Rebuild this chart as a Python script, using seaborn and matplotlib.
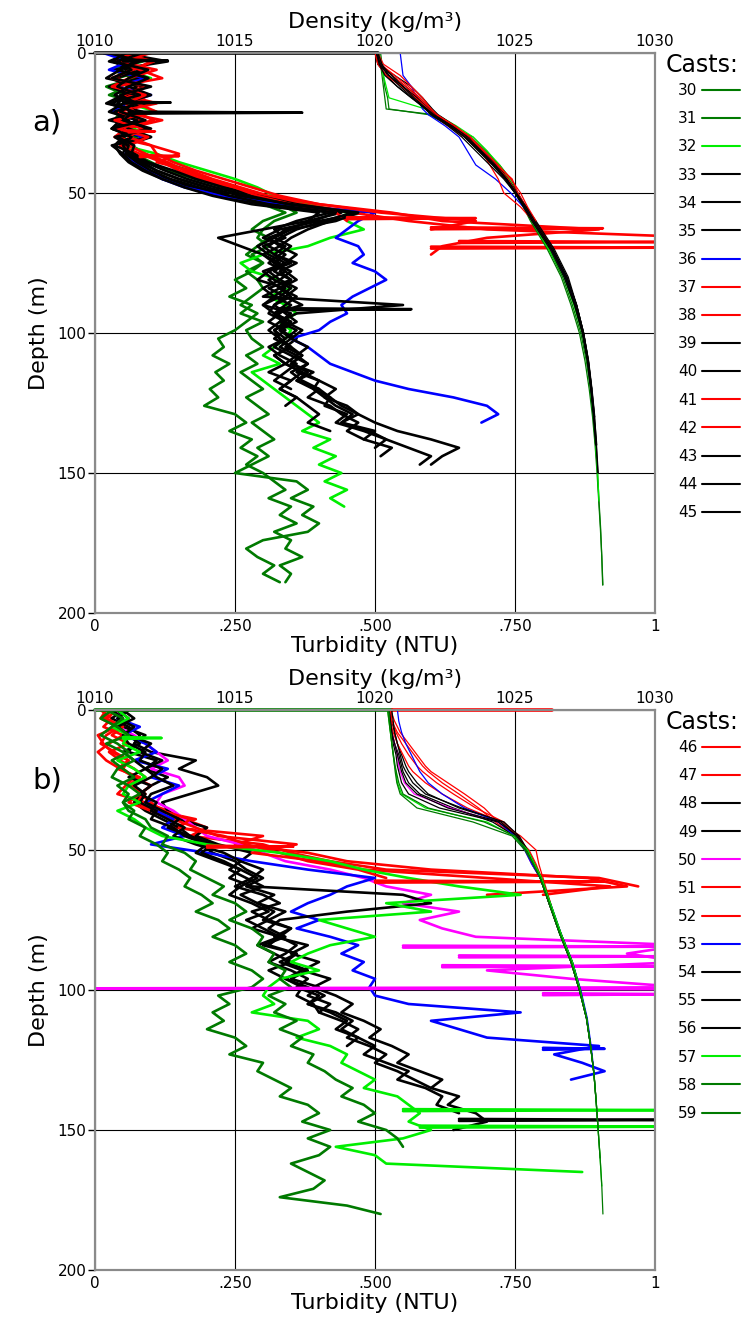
import numpy as np
import pandas as pd
import matplotlib
matplotlib.use("Agg")
import matplotlib.pyplot as plt
import seaborn as sns
from matplotlib.lines import Line2D

sns.set_theme(style="white")
plt.rcParams['font.family'] = ['DejaVu Sans']
plt.rcParams.update({'text.color': 'black', 'axes.labelcolor': 'black',
                     'xtick.color': 'black', 'ytick.color': 'black'})

# ---------------- colours ----------------
DG, LM, K, BL, RD, MG = "#007a00", "#00ee00", "#000000", "#0000ff", "#ff0000", "#ff00ff"

# ---------------- data: panel a ----------------
casts_a = [30, 31, 32, 33, 34, 35, 36, 37, 38, 39, 40, 41, 42, 43, 44, 45]
colors_a = [DG, DG, LM, K, K, K, BL, RD, RD, K, K, RD, RD, K, K, K]

TURB_STEP = 3  # m between turbidity samples (thousandths of NTU below)
t30 = [70, 30, 90, 40, 60, 25, 80, 45, 35, 95, 50, 65, 90, 120, 170, 200, 250, 300, 330, 360,
       320, 300, 290, 310, 280, 300, 270, 290, 300, 280, 260, 290, 270, 250,
       220, 230, 210, 240, 215, 230, 205, 220, 195, 250, 270, 240, 280, 260, 290, 270, 300,
       320, 340, 310, 350, 330, 360, 320, 350, 340, 370, 330, 350, 340]
t31 = [40, 85, 30, 70, 20, 55, 95, 35, 60, 30, 75, 45, 70, 100, 130, 180, 230, 260, 300, 340,
       300, 280, 310, 290, 270, 300, 280, 250, 270, 240, 280, 260, 300, 270,
       280, 300, 270, 290, 260, 280, 300, 270, 290, 310, 280, 300, 320, 290, 310, 280, 250,
       360, 380, 350, 390, 370, 400, 380, 300, 270, 290, 320, 300, 330]
t32 = [30, 75, 55, 100, 40, 85, 60, 110, 45, 70, 95, 50, 110, 150, 200, 250, 290, 320, 380, 450,
       450, 480, 420, 380, 300, 260, 280, 330, 350, 310, 340, 360, 330, 350,
       340, 320, 300, 330, 280, 300, 320, 340, 360, 380, 400, 370, 420, 390, 430, 400, 440,
       410, 450, 420, 445]
t33 = [45, 130, 35, 80, 25, 70, 90, 40, 60, 30, 85, 55, 60, 85, 110, 150, 200, 240, 330, 480,
       400, 330, 300, 340, 320, 360, 330, 350, 310, 340, 370, 320, 350, 330,
       360, 340, 370, 350, 390, 360, 400, 420, 440, 470, 500, 540, 600, 650, 620, 600]
t34 = [60, 25, 90, 35, 75, 50, 20, 85, 45, 30, 100, 55, 50, 70, 90, 130, 180, 230, 310, 440,
       380, 300, 220, 260, 300, 330, 310, 290, 340, 320, 300, 350, 330, 360,
       340, 320, 350, 380, 360, 400, 430, 410, 450, 470, 440, 490, 520, 500]
t35 = [80, 35, 55, 95, 30, 60, 40, 75, 25, 90, 50, 35, 45, 60, 85, 120, 170, 220, 300, 420,
       360, 320, 340, 300, 320, 350, 310, 330, 360, 340, 320, 310, 340, 320,
       330, 350, 320, 340, 370, 350, 330, 360, 380, 400, 380, 420]
t36 = [15, 60, 25, 90, 40, 100, 55, 30, 75, 45, 85, 60, 55, 70, 95, 120, 160, 230, 330, 500,
       470, 450, 430, 470, 480, 460, 500, 520, 490, 460, 440, 450, 420, 400,
       350, 380, 400, 420, 460, 500, 560, 640, 700, 720, 690]
t37 = [90, 40, 110, 60, 30, 95, 70, 45, 120, 55, 35, 100, 150, 110, 170, 210, 260, 310, 400, 530,
       620, 900, 700, 620, 600]
t38 = [50, 100, 70, 35, 85, 55, 110, 40, 80, 60, 95, 45, 80, 120, 150, 190, 240, 300, 370, 460,
       560, 700, 1100, 1100]
t39 = [35, 70, 45, 20, 90, 55, 30, 80, 40, 60, 100, 30, 50, 65, 90, 120, 160, 210, 280, 400,
       380, 350, 320, 290, 310, 340, 300, 320, 350, 330, 300, 320, 350, 320,
       340, 310, 330, 360, 340, 320, 350]
t40 = [70, 40, 85, 30, 60, 100, 50, 25, 75, 45, 65, 35, 70, 95, 140, 180, 230, 290, 360, 460,
       420, 380, 350, 330, 300, 320, 340, 310, 330, 300, 550, 360, 330, 310,
       330, 350, 320, 340, 310, 350, 330, 360, 340]
t41 = [40, 105, 65, 30, 95, 50, 75, 110, 35, 85, 60, 100, 110, 140, 180, 230, 280, 330, 400, 510,
       680, 600]
t42 = [100, 45, 80, 120, 35, 90, 55, 70, 105, 40, 95, 60, 90, 130, 160, 200, 250, 290, 350, 430,
       450]
t43 = [25, 80, 40, 95, 60, 35, 70, 45, 90, 30, 65, 50, 60, 80, 110, 150, 200, 260, 350, 470,
       430, 350, 310, 330, 360, 340, 320, 350, 330, 360, 340, 320, 340, 370,
       350, 380, 360, 340, 370, 400, 390, 420, 410, 450, 430, 480, 520, 560, 600, 580]
t44 = [85, 40, 65, 30, 100, 45, 75, 35, 55, 95, 40, 70, 65, 90, 125, 165, 215, 275, 345, 460,
       410, 360, 330, 310, 340, 320, 350, 330, 300, 320, 350, 330, 310, 340,
       320, 350, 370, 350, 380, 360, 390, 410, 430, 460, 440, 500, 480, 530, 510]
t45 = [55, 30, 95, 60, 40, 80, 25, 70, 50, 100, 35, 60, 55, 75, 100, 135, 185, 240, 310, 430,
       390, 340, 320, 350, 330, 310, 340, 360, 330, 350, 320, 340, 360, 330,
       350, 330, 360, 380, 350, 370, 400, 380, 420, 440, 470, 450, 480]

# density profiles (kg/m3) sampled at these depths (m)
DENS_DEPTH = [0, 4, 8, 12, 16, 20, 22, 26, 30, 35, 40, 45, 50, 55, 60, 70, 80, 90, 100,
              110, 120, 130, 140, 150, 160, 170, 180, 190]
r30 = [1020.15, 1020.2, 1020.25, 1020.3, 1020.35, 1020.4, 1022.1, 1022.8, 1023.4, 1023.95, 1024.45,
       1024.85, 1025.1, 1025.35, 1025.6, 1026.2, 1026.7, 1027.05, 1027.35, 1027.55, 1027.7, 1027.8,
       1027.88, 1027.95, 1028.0, 1028.06, 1028.1, 1028.14]
r31 = [1020.2, 1020.25, 1020.3, 1020.35, 1020.45, 1020.5, 1021.9, 1022.7, 1023.5, 1024.0, 1024.4,
       1024.75, 1025.0, 1025.3, 1025.55, 1026.15, 1026.65, 1027.0, 1027.3, 1027.5, 1027.65, 1027.77,
       1027.86, 1027.93, 1027.99, 1028.05, 1028.1, 1028.13]
r32 = [1020.1, 1020.2, 1020.3, 1020.4, 1020.5, 1021.8, 1022.2, 1022.9, 1023.5, 1024.0, 1024.45,
       1024.8, 1025.05, 1025.3, 1025.6, 1026.2, 1026.75, 1027.1, 1027.4, 1027.58, 1027.7, 1027.8,
       1027.88, 1027.95, 1028.0]
r33 = [1020.05, 1020.15, 1020.5, 1021.0, 1021.5, 1021.95, 1022.15, 1022.8, 1023.3, 1023.75, 1024.25,
       1024.7, 1025.05, 1025.4, 1025.7, 1026.35, 1026.85, 1027.2, 1027.45, 1027.62, 1027.74, 1027.84,
       1027.91, 1027.97]
r34 = [1020.1, 1020.2, 1020.6, 1021.1, 1021.6, 1022.0, 1022.2, 1022.7, 1023.2, 1023.7, 1024.2,
       1024.65, 1025.0, 1025.35, 1025.7, 1026.3, 1026.8, 1027.15, 1027.42, 1027.6, 1027.72, 1027.82,
       1027.9]
r35 = [1020.0, 1020.1, 1020.7, 1021.3, 1021.7, 1022.05, 1022.25, 1022.85, 1023.35, 1023.85, 1024.35,
       1024.75, 1025.1, 1025.4, 1025.7, 1026.35, 1026.85, 1027.2, 1027.45, 1027.63, 1027.75, 1027.85]
r36 = [1020.9, 1020.95, 1021.0, 1021.3, 1021.5, 1021.7, 1021.9, 1022.5, 1023.0, 1023.3, 1023.6,
       1024.3, 1024.85, 1025.3, 1025.65, 1026.3, 1026.8, 1027.15, 1027.42, 1027.6, 1027.72, 1027.82]
r37 = [1020.05, 1020.2, 1020.6, 1021.1, 1021.55, 1021.9, 1022.05, 1022.6, 1023.2, 1023.75, 1024.35,
       1024.9, 1025.1, 1025.4, 1025.7, 1026.35]
r38 = [1020.1, 1020.3, 1020.9, 1021.3, 1021.7, 1022.0, 1022.2, 1022.8, 1023.4, 1023.8, 1024.1,
       1024.4, 1024.6, 1025.2, 1025.65, 1026.3]
r39 = [1020.1, 1020.2, 1020.45, 1021.0, 1021.5, 1021.9, 1022.1, 1022.7, 1023.25, 1023.8, 1024.3,
       1024.7, 1025.05, 1025.35, 1025.65, 1026.3, 1026.8, 1027.15, 1027.42, 1027.6, 1027.72]
r40 = [1020.05, 1020.1, 1020.4, 1020.8, 1021.3, 1021.8, 1022.0, 1022.6, 1023.1, 1023.6, 1024.1,
       1024.6, 1025.0, 1025.4, 1025.75, 1026.4, 1026.9, 1027.2, 1027.45, 1027.62, 1027.74]
r41 = [1020.1, 1020.2, 1020.7, 1021.2, 1021.6, 1022.0, 1022.2, 1022.85, 1023.4, 1023.9, 1024.4,
       1024.85, 1025.2, 1025.45, 1025.75]
r42 = [1020.0, 1020.1, 1020.4, 1020.95, 1021.45, 1021.9, 1022.1, 1022.7, 1023.3, 1023.85, 1024.3,
       1024.75, 1025.05, 1025.4, 1025.7]
r43 = [1020.1, 1020.15, 1020.35, 1020.8, 1021.3, 1021.85, 1022.1, 1022.75, 1023.3, 1023.8, 1024.3,
       1024.7, 1025.05, 1025.35, 1025.65, 1026.3, 1026.8, 1027.15, 1027.42, 1027.6, 1027.72, 1027.82,
       1027.9, 1027.96]
r44 = [1020.05, 1020.2, 1020.6, 1021.0, 1021.4, 1021.85, 1022.05, 1022.7, 1023.2, 1023.7, 1024.2,
       1024.65, 1025.0, 1025.3, 1025.6, 1026.25, 1026.75, 1027.12, 1027.4, 1027.58, 1027.7, 1027.8,
       1027.88]
r45 = [1020.1, 1020.25, 1020.5, 1020.9, 1021.35, 1021.8, 1022.0, 1022.65, 1023.2, 1023.75, 1024.25,
       1024.7, 1025.05, 1025.4, 1025.7, 1026.35, 1026.85, 1027.2, 1027.45, 1027.62, 1027.74, 1027.84,
       1027.92]

# narrow turbidity spikes: (cast, depth m, base NTU, peak NTU)
spikes_a = [(33, 21.3, 0.06, 0.37), (35, 2.7, 0.05, 0.13), (34, 17.7, 0.05, 0.135),
            (37, 28.0, 0.06, 0.107), (42, 36.8, 0.08, 0.15), (41, 59.0, 0.45, 0.68),
            (38, 62.6, 0.60, 0.907), (37, 67.5, 0.65, 1.05), (38, 69.5, 0.60, 1.05),
            (40, 91.5, 0.33, 0.565)]
# surface segments along depth 0: (cast, from NTU, to NTU)
surface_a = [(33, 0.0, 0.505)]

# ---------------- data: panel b ----------------
casts_b = [46, 47, 48, 49, 50, 51, 52, 53, 54, 55, 56, 57, 58, 59]
colors_b = [RD, RD, K, K, MG, RD, RD, BL, K, K, K, LM, DG, DG]

t46 = [20, 10, 40, 5, 15, 30, 60, 40, 80, 60, 90, 70, 110, 180, 140, 300, 250, 380, 450, 600,
       880, 950, 700]
t47 = [10, 30, 15, 50, 25, 5, 20, 45, 70, 55, 40, 90, 130, 160, 200, 170, 300, 350, 420, 520,
       900, 970]
t48 = [50, 30, 60, 80, 70, 100, 180, 150, 200, 220, 170, 120, 130, 150, 200, 180, 220, 280, 260, 300,
       280, 250, 300, 330, 280, 310, 350, 320, 380, 350, 400, 370, 420, 390,
       430, 460, 440, 480, 510, 490, 530, 560, 540, 580, 620, 600, 650, 630, 680, 700, 640]
t49 = [40, 60, 50, 90, 70, 60, 110, 90, 130, 100, 80, 70, 90, 120, 150, 170, 190, 210, 250, 270,
       300, 270, 320, 290, 340, 310, 280, 330, 360, 340, 310, 350, 380, 360,
       400, 380, 420, 450, 430, 470, 500, 480, 520, 560, 540, 590, 620, 610, 650]
t50 = [30, 50, 40, 70, 90, 110, 130, 100, 150, 160, 120, 110, 140, 160, 180, 200, 260, 300, 340, 420,
       480, 520, 600, 550, 650, 580, 620, 680, 1050, 950, 1050, 700, 850, 1050, 1050]
t51 = [30, 15, 45, 20, 10, 35, 60, 50, 70, 100, 80, 60, 100, 140, 180, 220, 360, 280, 400, 480,
       700, 920, 800]
t52 = [40, 20, 50, 30, 60, 25, 45, 70, 90, 65, 80, 100, 120, 170, 150, 230, 270, 330, 380, 470,
       520]
t53 = [60, 40, 80, 50, 90, 110, 70, 130, 100, 150, 120, 90, 110, 140, 120, 160, 100, 200, 280, 380,
       500, 450, 420, 380, 350, 400, 360, 420, 470, 440, 480, 460, 500, 490,
       500, 560, 760, 600, 650, 700, 900, 820, 870, 910, 850]
t54 = [30, 50, 40, 60, 80, 50, 70, 90, 60, 100, 80, 110, 100, 130, 160, 140, 180, 230, 260, 240,
       270, 300, 260, 290, 320, 300, 350, 330, 310, 360, 340, 380, 350, 400,
       380, 420, 400, 440, 470, 450, 490, 520, 500, 540, 570, 600]
t55 = [60, 40, 70, 50, 60, 90, 80, 120, 100, 70, 90, 80, 110, 100, 140, 160, 200, 180, 220, 260,
       240, 280, 550, 600, 450, 330, 310, 340, 300, 360, 330, 370, 340, 380,
       410, 380, 430, 460, 440, 470, 450]
t56 = [50, 70, 40, 60, 100, 80, 120, 90, 110, 140, 100, 90, 120, 150, 130, 170, 210, 190, 230, 260,
       290, 260, 240, 280, 310, 270, 300, 330, 290, 320, 350, 310, 340, 370,
       360, 390, 400]
t57 = [40, 60, 30, 60, 50, 80, 40, 70, 90, 60, 50, 80, 40, 70, 90, 120, 200, 330, 420, 480,
       560, 650, 760, 520, 600, 400, 450, 500, 420, 380, 350, 400, 330, 310,
       300, 320, 280, 380, 400, 360, 420, 450, 440, 470, 500, 480, 540, 560, 580, 560, 600,
       550, 430, 500, 520, 870]
t58 = [20, 50, 30, 10, 40, 60, 30, 50, 70, 40, 60, 50, 70, 60, 90, 80, 110, 130, 120, 150,
       170, 160, 190, 210, 180, 220, 240, 210, 250, 270, 240, 280, 300, 280,
       220, 240, 210, 230, 200, 250, 270, 240, 300, 290, 320, 350, 330, 380, 400, 370, 420,
       380, 420, 400, 350, 380, 410, 390, 330, 450, 510]
t59 = [30, 10, 40, 60, 20, 50, 70, 40, 30, 60, 80, 50, 60, 90, 100, 130, 120, 160, 180, 170,
       200, 230, 210, 250, 270, 240, 280, 300, 290, 320, 310, 340, 330, 350,
       310, 340, 320, 360, 330, 370, 350, 390, 380, 410, 430, 460, 440, 480, 500, 470, 520,
       540, 550]

r46 = [1020.55, 1020.7, 1020.9, 1021.2, 1021.5, 1021.8, 1022.0, 1022.6, 1023.2, 1023.9, 1024.4,
       1025.2, 1025.75, 1025.85, 1026.0, 1026.3]
r47 = [1020.5, 1020.6, 1020.8, 1021.1, 1021.4, 1021.7, 1021.9, 1022.4, 1023.0, 1023.7, 1024.3,
       1025.0, 1025.5, 1025.75, 1025.95]
r48 = [1020.5, 1020.55, 1020.6, 1020.7, 1020.85, 1020.95, 1021.0, 1021.2, 1021.6, 1022.8, 1024.2,
       1025.0, 1025.35, 1025.6, 1025.9, 1026.25, 1026.65, 1027.05, 1027.33, 1027.56, 1027.7, 1027.82,
       1027.9, 1027.97]
r49 = [1020.55, 1020.6, 1020.7, 1020.8, 1020.95, 1021.1, 1021.2, 1021.5, 1021.9, 1023.0, 1024.6,
       1025.1, 1025.4, 1025.65, 1025.9, 1026.25, 1026.6, 1027.0, 1027.3, 1027.55, 1027.7, 1027.82,
       1027.9]
r50 = [1020.5, 1020.55, 1020.6, 1020.7, 1020.8, 1020.85, 1020.9, 1021.05, 1021.4, 1022.7, 1024.4,
       1025.05, 1025.35, 1025.6, 1025.9, 1026.25, 1026.6, 1027.0, 1027.3]
r51 = [1020.5, 1020.55, 1020.65, 1020.8, 1021.0, 1021.2, 1021.35, 1021.8, 1022.4, 1023.3, 1024.5,
       1025.1, 1025.4, 1025.7, 1025.95]
r52 = [1020.55, 1020.6, 1020.75, 1020.95, 1021.2, 1021.5, 1021.7, 1022.2, 1022.8, 1023.6, 1024.6,
       1025.1, 1025.45, 1025.7, 1025.9]
r53 = [1020.8, 1020.85, 1020.95, 1021.1, 1021.3, 1021.5, 1021.6, 1021.9, 1022.4, 1023.2, 1024.4,
       1025.0, 1025.35, 1025.6, 1025.9, 1026.3, 1026.65, 1027.05, 1027.35, 1027.58, 1027.72, 1027.83]
r54 = [1020.5, 1020.55, 1020.6, 1020.65, 1020.75, 1020.8, 1020.85, 1020.95, 1021.2, 1022.3, 1024.4,
       1025.1, 1025.4, 1025.65, 1025.9, 1026.25, 1026.6, 1027.0, 1027.3, 1027.55, 1027.7, 1027.82]
r55 = [1020.6, 1020.65, 1020.7, 1020.8, 1020.9, 1021.0, 1021.1, 1021.35, 1021.8, 1023.1, 1024.6,
       1025.15, 1025.45, 1025.7, 1025.95, 1026.3, 1026.65, 1027.05, 1027.33, 1027.56, 1027.7]
r56 = [1020.5, 1020.55, 1020.6, 1020.7, 1020.8, 1020.9, 1020.95, 1021.1, 1021.5, 1022.6, 1024.5,
       1025.05, 1025.4, 1025.65, 1025.9, 1026.25, 1026.6, 1027.0, 1027.3, 1027.55]
r57 = [1020.45, 1020.5, 1020.55, 1020.6, 1020.65, 1020.7, 1020.75, 1020.8, 1020.95, 1021.8, 1024.0,
       1024.95, 1025.45, 1025.7, 1025.95, 1026.3, 1026.65, 1027.05, 1027.33, 1027.56, 1027.7, 1027.82,
       1027.9, 1027.97, 1028.04, 1028.1]
r58 = [1020.45, 1020.5, 1020.55, 1020.6, 1020.65, 1020.7, 1020.72, 1020.78, 1020.9, 1021.5, 1023.5,
       1024.9, 1025.35, 1025.65, 1025.9, 1026.25, 1026.6, 1027.0, 1027.3, 1027.55, 1027.7, 1027.82,
       1027.9, 1027.97, 1028.04, 1028.1, 1028.14]
r59 = [1020.5, 1020.52, 1020.56, 1020.6, 1020.66, 1020.72, 1020.76, 1020.85, 1021.0, 1021.9, 1023.9,
       1025.0, 1025.4, 1025.65, 1025.9, 1026.25, 1026.6, 1027.0, 1027.3, 1027.55, 1027.7, 1027.82,
       1027.9, 1027.97, 1028.04]

spikes_b = [(57, 10.0, 0.05, 0.119), (46, 48.8, 0.20, 0.354), (51, 61.3, 0.50, 0.91),
            (50, 84.5, 0.55, 1.05), (50, 88.0, 0.65, 1.05), (50, 91.5, 0.62, 1.05),
            (50, 99.4, 1.05, 0.0), (50, 101.5, 0.80, 1.05), (48, 146.4, 0.65, 1.05),
            (57, 142.9, 0.55, 1.05), (57, 148.8, 0.58, 1.05), (53, 121.0, 0.80, 0.91)]
surface_b = [(58, 0.0, 0.53), (46, 0.53, 0.816)]

turb_b_lists = [t46, t47, t48, t49, t50, t51, t52, t53, t54, t55, t56, t57, t58, t59]
dens_b_lists = [r46, r47, r48, r49, r50, r51, r52, r53, r54, r55, r56, r57, r58, r59]
turb_a_lists = [t30, t31, t32, t33, t34, t35, t36, t37, t38, t39, t40, t41, t42, t43, t44, t45]
dens_a_lists = [r30, r31, r32, r33, r34, r35, r36, r37, r38, r39, r40, r41, r42, r43, r44, r45]

turb_ticks = [0, 0.25, 0.5, 0.75, 1.0]
turb_ticklabels = ["0", ".250", ".500", ".750", "1"]
dens_ticks = [1010, 1015, 1020, 1025, 1030]
depth_ticks = [0, 50, 100, 150, 200]


def build_frames(casts, turbs, denss):
    trows, drows = [], []
    for c, tl, rl in zip(casts, turbs, denss):
        for i, v in enumerate(tl):
            trows.append((str(c), i * TURB_STEP, v / 1000.0))
        for dd, v in zip(DENS_DEPTH, rl):
            drows.append((str(c), dd, v))
    tdf = pd.DataFrame(trows, columns=["cast", "depth", "turbidity"])
    ddf = pd.DataFrame(drows, columns=["cast", "depth", "density"])
    return tdf, ddf


W, H = 746, 1319
fig = plt.figure(figsize=(W / 100, H / 100), dpi=100)
fig.patch.set_facecolor("white")


def panel(top_px, casts, colors, turbs, denss, spikes, surface, tag):
    ax = fig.add_axes([95 / W, 1 - (top_px + 560) / H, 560 / W, 560 / H])
    pal = {str(c): col for c, col in zip(casts, colors)}
    cmap = dict(zip(casts, colors))
    tdf, ddf = build_frames(casts, turbs, denss)
    ax.set_xlim(0, 1)
    ax.set_ylim(200, 0)
    ax.set_xticks(turb_ticks)
    ax.set_xticklabels(turb_ticklabels)
    ax.set_yticks(depth_ticks)
    ax.grid(True, color="black", linewidth=0.8)
    ax.set_axisbelow(True)
    sns.lineplot(data=tdf, x="turbidity", y="depth", hue="cast", palette=pal,
                 estimator=None, sort=False, orient="y", linewidth=1.9,
                 legend=False, ax=ax)
    for c, d, b, p in spikes:
        ax.plot([b, p, b], [d - 0.35, d, d + 0.35], color=cmap[c], lw=1.9)
    for c, a0, a1 in surface:
        ax.plot([a0, a1], [0, 0], color=cmap[c], lw=2.6, clip_on=False, zorder=5)
    ax.set_xlim(0, 1)
    ax.set_ylim(200, 0)
    ax.set_xlabel("Turbidity (NTU)", fontsize=16, labelpad=2)
    ax.set_ylabel("Depth (m)", fontsize=16, labelpad=6)
    ax.tick_params(axis="y", length=5, width=1, color="black", pad=1, labelsize=11, left=True)
    ax.tick_params(axis="x", length=0, pad=4, labelsize=11)

    ax2 = ax.twiny()
    sns.lineplot(data=ddf, x="density", y="depth", hue="cast", palette=pal,
                 estimator=None, sort=False, orient="y", linewidth=0.9,
                 legend=False, ax=ax2)
    ax2.set_xlim(1010, 1030)
    ax2.set_ylim(200, 0)
    ax2.set_xticks(dens_ticks)
    ax2.set_xlabel("Density (kg/m³)", fontsize=16, labelpad=4)
    ax2.set_ylabel("")
    ax2.tick_params(axis="x", length=0, pad=3, labelsize=11)
    for a in (ax, ax2):
        for s in a.spines.values():
            s.set_color("#8a8a8a")
            s.set_linewidth(1.5)

    handles = [Line2D([0], [0], color=col, lw=1.5) for col in colors]
    labels = [str(c) for c in casts]
    fig.legend(handles, labels, loc="upper left",
               bbox_to_anchor=(672 / W, 1 - (top_px + 24) / H),
               bbox_transform=fig.transFigure, frameon=False, markerfirst=False,
               fontsize=11, handlelength=2.5,
               handletextpad=0.3, labelspacing=0.86, borderaxespad=0)
    fig.text(702 / W, 1 - (top_px + 12) / H, "Casts:", fontsize=17, ha="center", va="center")
    fig.text(47 / W, 1 - (top_px + 70) / H, tag, fontsize=21, ha="center", va="center")
    return ax


panel(53, casts_a, colors_a, turb_a_lists, dens_a_lists, spikes_a, surface_a, "a)")
panel(710, casts_b, colors_b, turb_b_lists, dens_b_lists, spikes_b, surface_b, "b)")

fig.savefig("out.png", dpi=100, facecolor="white")
